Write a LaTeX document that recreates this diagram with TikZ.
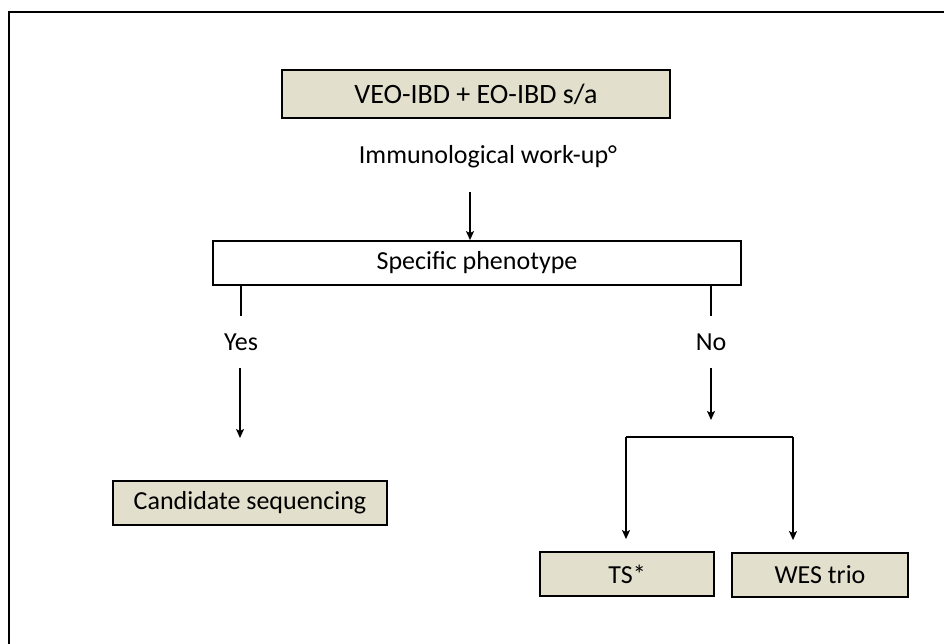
\documentclass[tikz,border=0pt]{standalone}
\usepackage{fontspec}
\setmainfont{Carlito}
\usetikzlibrary{
  arrows.meta,
  positioning,
  calc
}

\definecolor{boxbeige}{RGB}{227,223,205}

\begin{document}
\begin{tikzpicture}[
  x=1pt, y=-1pt,
  font=\fontsize{26}{30}\selectfont,
  stepbox/.style={
    rectangle, draw=black, line width=1.8pt,
    minimum height=44pt, inner sep=0pt, align=center
  },
  result/.style={stepbox, fill=boxbeige},
  query/.style={stepbox, fill=white},
  answer/.style={inner sep=0pt, minimum height=52pt},
  link/.style={black, line width=1.5pt},
  flow/.style={link, -{Stealth[length=9pt, width=8pt, inset=2pt]}},
]
\useasboundingbox (0,0) rectangle (944,644);

% Frame (open to the right and bottom)
\draw[line width=1.6pt] (9,644) -- (9,12) -- (944,12);

% Start and work-up
\node[result, minimum width=388pt, minimum height=48pt] (onset) at (476,94)
  {\fontsize{28}{32}\selectfont VEO-IBD + EO-IBD s/a};
\node (workup) at (488,157) {Immunological work-up°};
\coordinate (wtail) at (470,192);

% Decision
\node[query, minimum width=528pt] (pheno) at (477,263) {Specific phenotype};
\node[answer] (yes) at (241,342) {Yes};
\node[answer] (no) at (711,342) {No};
\coordinate (yestip) at (240,438);
\coordinate (notip) at (711,420);

% Outcomes
\node[result, minimum width=274pt] (cand) at (250,503) {Candidate sequencing};
\node[result, minimum width=174pt] (ts) at (627,574) {TS*};
\node[result, minimum width=176pt] (wes) at (820,575) {WES trio};
\coordinate (splitl) at (626,437);
\coordinate (splitr) at (793,437);

% Connectors
\draw[flow] (wtail) -- (wtail |- pheno.north);
\draw[link] (pheno.south -| yes) -- (yes.north);
\draw[flow] (yes.south -| yestip) -- (yestip);
\draw[link] (pheno.south -| no) -- (no.north);
\draw[flow] (no.south) -- (notip);
\draw[link] (splitl) -- (splitr);
\draw[flow] (splitl) -- ($(splitl |- ts.north)+(0,-12)$);
\draw[flow] (splitr) -- ($(splitr |- wes.north)+(0,-12)$);

\end{tikzpicture}
\end{document}
